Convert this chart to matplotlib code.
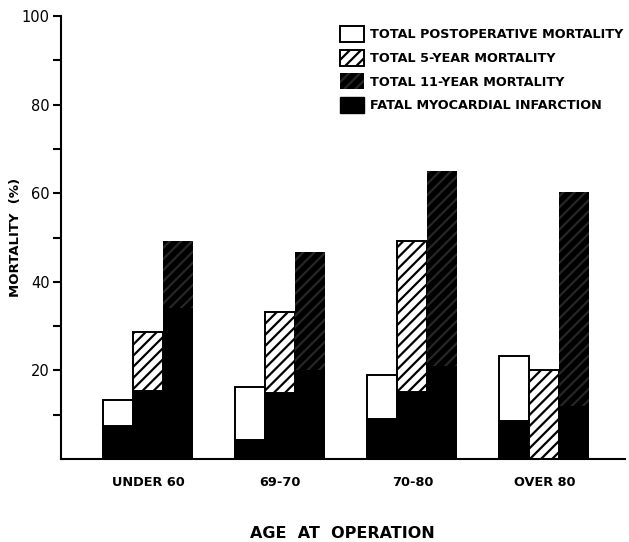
import matplotlib
matplotlib.use("Agg")
import matplotlib.pyplot as plt
from matplotlib.patches import Patch
import numpy as np

# values (% mortality)
groups = ["UNDER 60", "69-70", "70-80", "OVER 80"]
postop = [13.3, 16.3, 19.0, 23.2]
postop_mi = [7.4, 4.3, 9.0, 8.6]
five_year = [28.6, 33.2, 49.2, 20.1]
five_year_mi = [15.3, 14.9, 15.1, 0.0]
eleven_year = [49.2, 46.7, 65.0, 60.3]
eleven_year_mi = [34.0, 20.0, 21.0, 12.0]

legend_labels = [
    "TOTAL POSTOPERATIVE MORTALITY",
    "TOTAL 5-YEAR MORTALITY",
    "TOTAL 11-YEAR MORTALITY",
    "FATAL MYOCARDIAL INFARCTION",
]

plt.rcParams["font.family"] = ["DejaVu Sans"]
plt.rcParams["hatch.linewidth"] = 1.6

fig = plt.figure(figsize=(6.29, 5.42), dpi=100)
ax = fig.add_axes([61 / 629, 83 / 542, 564 / 629, 443 / 542])

x = np.arange(len(groups))
w = 0.227
dark = "#262626"

# white = postoperative, hatched = 5-year, dark = 11-year; black bottoms = fatal MI
ax.bar(x - w, postop, w, color="white", edgecolor="black", linewidth=1.4)
ax.bar(x - w, postop_mi, w, color="black", edgecolor="black", linewidth=1.4)

ax.bar(x, five_year, w, color="white", edgecolor="black", linewidth=1.4, hatch="///")
ax.bar(x, five_year_mi, w, color="black", edgecolor="black", linewidth=1.4)

ax.bar(x + w, eleven_year, w, color="black", edgecolor=dark, linewidth=0, hatch="///")
ax.bar(x + w, eleven_year_mi, w, color="black", edgecolor="black", linewidth=0)

ax.set_xlim(-0.66, 3.61)
ax.set_ylim(0, 100)
ax.set_yticks([20, 40, 60, 80, 100])
ax.set_yticks([10, 30, 50, 70, 90], minor=True)
ax.tick_params(axis="y", which="both", direction="out", length=6, width=1.5,
               labelsize=10.5, pad=2)
ax.set_xticks(x)
ax.set_xticklabels(groups, fontsize=9.3, fontweight="bold")
ax.tick_params(axis="x", length=0, pad=12)

for side in ["top", "right"]:
    ax.spines[side].set_visible(False)
for side in ["left", "bottom"]:
    ax.spines[side].set_linewidth(1.5)

fig.text(15 / 629, 1 - 237 / 542, "MORTALITY  (%)", rotation=90, ha="center", va="center",
         fontsize=9.5, fontweight="bold")
fig.text(342 / 629, 1 - 533 / 542, "AGE  AT  OPERATION", ha="center", va="center",
         fontsize=11.5, fontweight="bold")

handles = [
    Patch(facecolor="white", edgecolor="black", linewidth=1.4),
    Patch(facecolor="white", edgecolor="black", linewidth=1.4, hatch="///"),
    Patch(facecolor="black", edgecolor=dark, linewidth=0, hatch="///"),
    Patch(facecolor="black", edgecolor="black"),
]
fig.legend(handles, legend_labels, loc="upper left", bbox_to_anchor=(335 / 629, 1 - 21 / 542),
           frameon=False, handlelength=1.9, handleheight=1.55, handletextpad=0.45,
           labelspacing=0.6, borderaxespad=0,
           prop={"weight": "bold", "size": 9.2})

fig.savefig("out.png", dpi=100)
